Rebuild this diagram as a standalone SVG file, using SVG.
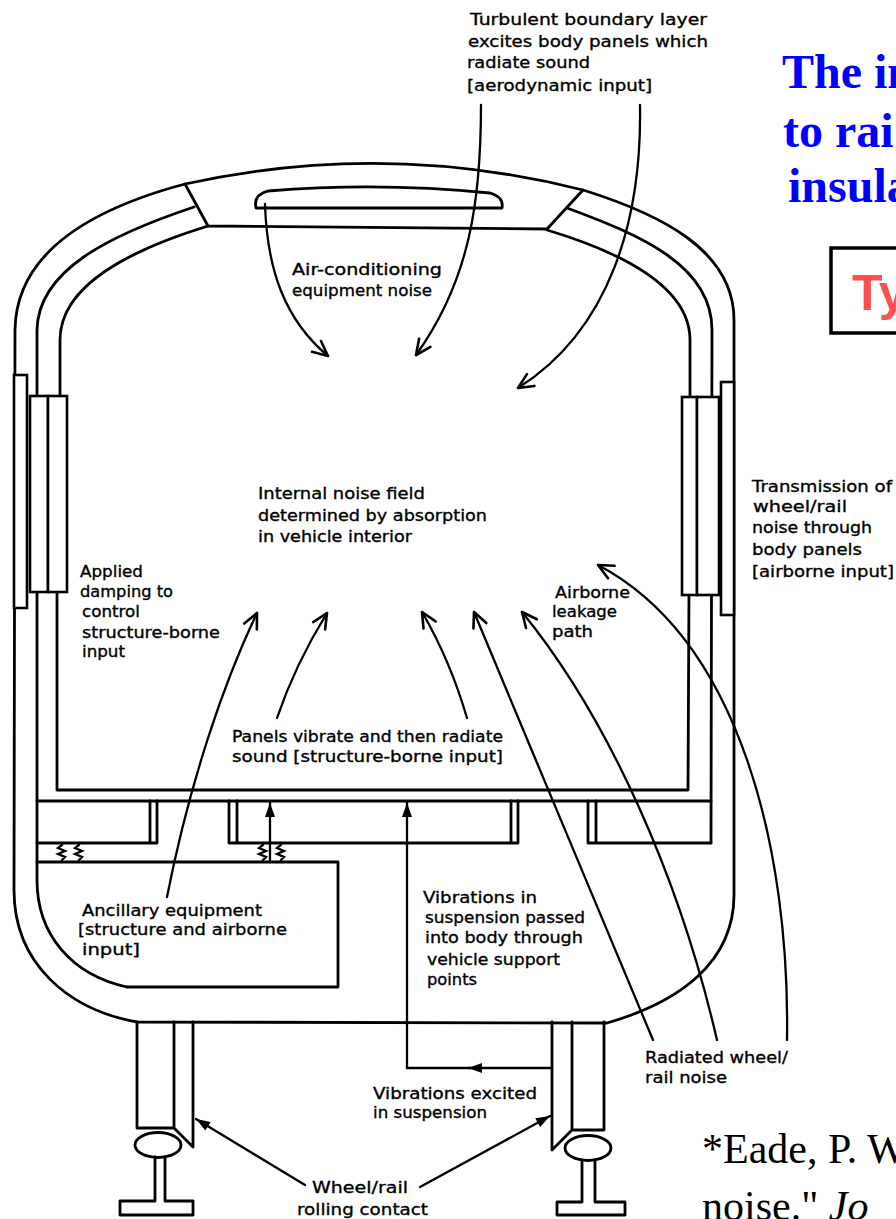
<svg xmlns="http://www.w3.org/2000/svg" width="896" height="1219" viewBox="0 0 896 1219">
<style>
.ln{fill:none;stroke:#000;stroke-width:2.8;stroke-linejoin:round;stroke-linecap:round}
.pn{fill:#fff;stroke:#000;stroke-width:2.6}
.ar{fill:none;stroke:#000;stroke-width:2.3;stroke-linecap:round}
.t{font-family:"DejaVu Sans","Liberation Sans",sans-serif;font-size:16px;fill:#000;stroke:#000;stroke-width:0.35}
.ttl{font-family:"Liberation Serif","Times New Roman",serif;font-weight:bold;font-size:48px;fill:#0000ff}
.ref{font-family:"Liberation Serif","Times New Roman",serif;font-size:42px;fill:#000}
</style>
<defs>
<marker id="open" viewBox="-17 -9 19 18" refX="0" refY="0" markerWidth="19" markerHeight="18" markerUnits="userSpaceOnUse" orient="auto">
<path d="M-15,-7 L0,0 L-15,7" fill="none" stroke="#000" stroke-width="2.6" stroke-linecap="round" stroke-linejoin="round"/>
</marker>
<marker id="fill" viewBox="-15 -7 16 14" refX="0" refY="0" markerWidth="16" markerHeight="14" markerUnits="userSpaceOnUse" orient="auto">
<path d="M-14,-5 L0,0 L-14,5 Z" fill="#000"/>
</marker>
</defs>
<rect width="896" height="1219" fill="#fff"/>

<g id="vehicle-body">
<path class="ln" d="M185,184 Q385,140 583,190 C660,214 734,250 734,320 L734,895 C734,962 680,1002 607,1023 L137,1022 C70,1010 14,965 14,890 L15,330 C16,250 95,208 185,184 Z"/>
<path class="ln" d="M185,184 L208,226 L547,229 L583,190"/>
<path class="ln" d="M194,207 C110,235 38,270 37,330 L37,880 C37,935 72,975 127,987"/>
<path class="ln" d="M208,226 C130,250 60,285 60,340 L60,400 L57,590 L57,790 L688,790 L689,590 L690,400 L690,340 C690,290 630,255 547,230"/>
<path class="ln" d="M567,208 C640,235 712,265 712,330 L711,843"/>
<path class="ln" d="M256,208 Q253,195 268,191 Q380,182 490,193 Q504,197 502,208 Z"/>
</g>

<g id="window-panels">
<rect class="pn" x="14" y="375" width="13" height="233"/>
<rect class="pn" x="30" y="396" width="18" height="196"/>
<rect class="pn" x="48" y="396" width="19" height="196"/>
<rect class="pn" x="682" y="397" width="15" height="198"/>
<rect class="pn" x="697" y="397" width="22" height="198"/>
<rect class="pn" x="721" y="382" width="13" height="233"/>
</g>

<g id="underframe">
<path class="ln" d="M37,801 L711,801"/>
<path class="ln" d="M37,843 L157,843 L157,801 M150,801 L150,843"/>
<path class="ln" d="M229,801 L229,843 L518,843 L518,801 M237,801 L237,843 M511,801 L511,843"/>
<path class="ln" d="M588,801 L588,843 L711,843 M596,801 L596,843"/>
<path class="ln" d="M37,862 L338,862 L338,987 L127,987"/>
<path class="ar" d="M62,843 l0,2 l-4,3 l7,3 l-7,3 l7,3 l-3,3 l0,2 M79,843 l0,2 l-4,3 l7,3 l-7,3 l7,3 l-3,3 l0,2 M263,843 l0,2 l-4,3 l7,3 l-7,3 l7,3 l-3,3 l0,2 M281,843 l0,2 l-4,3 l7,3 l-7,3 l7,3 l-3,3 l0,2"/>
</g>

<g id="bogies">
<path class="ln" d="M137,1022 L137,1128 L174,1128 M174,1022 L174,1128 L193,1147 L193,1022"/>
<path class="ln" d="M552,1022 L552,1150 L572,1130 M572,1022 L572,1130 L604,1130 L604,1022"/>
<ellipse class="ln" cx="158" cy="1145" rx="23" ry="12.5"/>
<path class="ln" d="M155,1157 L155,1201 L120,1201 L120,1215 L193,1215 L193,1201 L165,1201 L165,1157"/>
<ellipse class="ln" cx="588" cy="1148" rx="23" ry="12.5"/>
<path class="ln" d="M582,1160 L582,1202 L557,1202 L557,1215 L625,1215 L625,1202 L595,1202 L595,1160"/>
</g>

<g id="connectors">
<path class="ar" marker-end="url(#open)" d="M265,204 C267,270 285,320 328,356"/>
<path class="ar" marker-end="url(#open)" d="M481,105 C481,200 470,280 416,355"/>
<path class="ar" marker-end="url(#open)" d="M640,105 C642,220 610,330 518,388"/>
<path class="ar" marker-end="url(#open)" d="M167,897 C190,780 225,680 257,613"/>
<path class="ar" marker-end="url(#open)" d="M277,718 Q295,665 327,613"/>
<path class="ar" marker-end="url(#open)" d="M467,718 Q450,660 422,612"/>
<path class="ar" marker-end="url(#open)" d="M653,1040 C610,940 520,720 474,612"/>
<path class="ar" marker-end="url(#open)" d="M717,1040 C680,880 610,720 522,612"/>
<path class="ar" marker-end="url(#open)" d="M787,1040 C790,850 740,640 598,565"/>
<path class="ar" marker-end="url(#fill)" d="M270,862 L270,803"/>
<path class="ar" marker-end="url(#fill)" d="M552,1068 L468,1068"/>
<path class="ar" marker-end="url(#fill)" d="M470,1068 L407,1068 L407,803"/>
<path class="ar" marker-end="url(#fill)" d="M305,1185 L196,1119"/>
<path class="ar" marker-end="url(#fill)" d="M420,1187 L550,1116"/>
</g>

<g id="label-aerodynamic">
<text class="t" x="470" y="25" textLength="237" lengthAdjust="spacingAndGlyphs">Turbulent boundary layer</text>
<text class="t" x="468" y="47" textLength="240" lengthAdjust="spacingAndGlyphs">excites body panels which</text>
<text class="t" x="467" y="68" textLength="123" lengthAdjust="spacingAndGlyphs">radiate sound</text>
<text class="t" x="467" y="91" textLength="185" lengthAdjust="spacingAndGlyphs">[aerodynamic input]</text>
</g>
<g id="label-ac">
<text class="t" x="292" y="275" textLength="150" lengthAdjust="spacingAndGlyphs">Air-conditioning</text>
<text class="t" x="292" y="296" textLength="140" lengthAdjust="spacingAndGlyphs">equipment noise</text>
</g>
<g id="label-internal">
<text class="t" x="258" y="499" textLength="167" lengthAdjust="spacingAndGlyphs">Internal noise field</text>
<text class="t" x="258" y="521" textLength="229" lengthAdjust="spacingAndGlyphs">determined by absorption</text>
<text class="t" x="258" y="542" textLength="154" lengthAdjust="spacingAndGlyphs">in vehicle interior</text>
</g>
<g id="label-damping">
<text class="t" x="80" y="577" textLength="63" lengthAdjust="spacingAndGlyphs">Applied</text>
<text class="t" x="80" y="597" textLength="93" lengthAdjust="spacingAndGlyphs">damping to</text>
<text class="t" x="82" y="617" textLength="58" lengthAdjust="spacingAndGlyphs">control</text>
<text class="t" x="82" y="638" textLength="138" lengthAdjust="spacingAndGlyphs">structure-borne</text>
<text class="t" x="82" y="657" textLength="43" lengthAdjust="spacingAndGlyphs">input</text>
</g>
<g id="label-leakage">
<text class="t" x="555" y="598" textLength="75" lengthAdjust="spacingAndGlyphs">Airborne</text>
<text class="t" x="552" y="617" textLength="65" lengthAdjust="spacingAndGlyphs">leakage</text>
<text class="t" x="552" y="637" textLength="41" lengthAdjust="spacingAndGlyphs">path</text>
</g>
<g id="label-transmission">
<text class="t" x="752" y="492" textLength="140" lengthAdjust="spacingAndGlyphs">Transmission of</text>
<text class="t" x="753" y="512" textLength="94" lengthAdjust="spacingAndGlyphs">wheel/rail</text>
<text class="t" x="752" y="533" textLength="120" lengthAdjust="spacingAndGlyphs">noise through</text>
<text class="t" x="752" y="555" textLength="110" lengthAdjust="spacingAndGlyphs">body panels</text>
<text class="t" x="752" y="577" textLength="142" lengthAdjust="spacingAndGlyphs">[airborne input]</text>
</g>
<g id="label-panels">
<text class="t" x="232" y="742" textLength="271" lengthAdjust="spacingAndGlyphs">Panels vibrate and then radiate</text>
<text class="t" x="232" y="762" textLength="271" lengthAdjust="spacingAndGlyphs">sound [structure-borne input]</text>
</g>
<g id="label-ancillary">
<text class="t" x="82" y="916" textLength="180" lengthAdjust="spacingAndGlyphs">Ancillary equipment</text>
<text class="t" x="78" y="935" textLength="209" lengthAdjust="spacingAndGlyphs">[structure and airborne</text>
<text class="t" x="82" y="955" textLength="58" lengthAdjust="spacingAndGlyphs">input]</text>
</g>
<g id="label-support">
<text class="t" x="423" y="903" textLength="114" lengthAdjust="spacingAndGlyphs">Vibrations in</text>
<text class="t" x="425" y="923" textLength="160" lengthAdjust="spacingAndGlyphs">suspension passed</text>
<text class="t" x="425" y="943" textLength="158" lengthAdjust="spacingAndGlyphs">into body through</text>
<text class="t" x="427" y="965" textLength="133" lengthAdjust="spacingAndGlyphs">vehicle support</text>
<text class="t" x="427" y="985" textLength="50" lengthAdjust="spacingAndGlyphs">points</text>
</g>
<g id="label-radiated">
<text class="t" x="645" y="1063" textLength="143" lengthAdjust="spacingAndGlyphs">Radiated wheel/</text>
<text class="t" x="645" y="1083" textLength="82" lengthAdjust="spacingAndGlyphs">rail noise</text>
</g>
<g id="label-suspension">
<text class="t" x="373" y="1099" textLength="164" lengthAdjust="spacingAndGlyphs">Vibrations excited</text>
<text class="t" x="373" y="1118" textLength="114" lengthAdjust="spacingAndGlyphs">in suspension</text>
</g>
<g id="label-contact">
<text class="t" x="312" y="1193" textLength="96" lengthAdjust="spacingAndGlyphs">Wheel/rail</text>
<text class="t" x="297" y="1215" textLength="131" lengthAdjust="spacingAndGlyphs">rolling contact</text>
</g>

<g id="title">
<text class="ttl" x="782" y="88">The in</text>
<text class="ttl" x="783" y="147">to rai</text>
<text class="ttl" x="788" y="202">insula</text>
</g>
<g id="type-box">
<rect x="831" y="248" width="90" height="85" fill="none" stroke="#000" stroke-width="3.5"/>
<text x="852" y="310" font-family="Liberation Sans, Arial, sans-serif" font-weight="bold" font-size="50" fill="#ff5050">Ty</text>
</g>
<g id="reference">
<text class="ref" x="702" y="1163">*Eade, P. W</text>
<text class="ref" x="702" y="1220">noise." <tspan font-style="italic">Jo</tspan></text>
</g>
</svg>
